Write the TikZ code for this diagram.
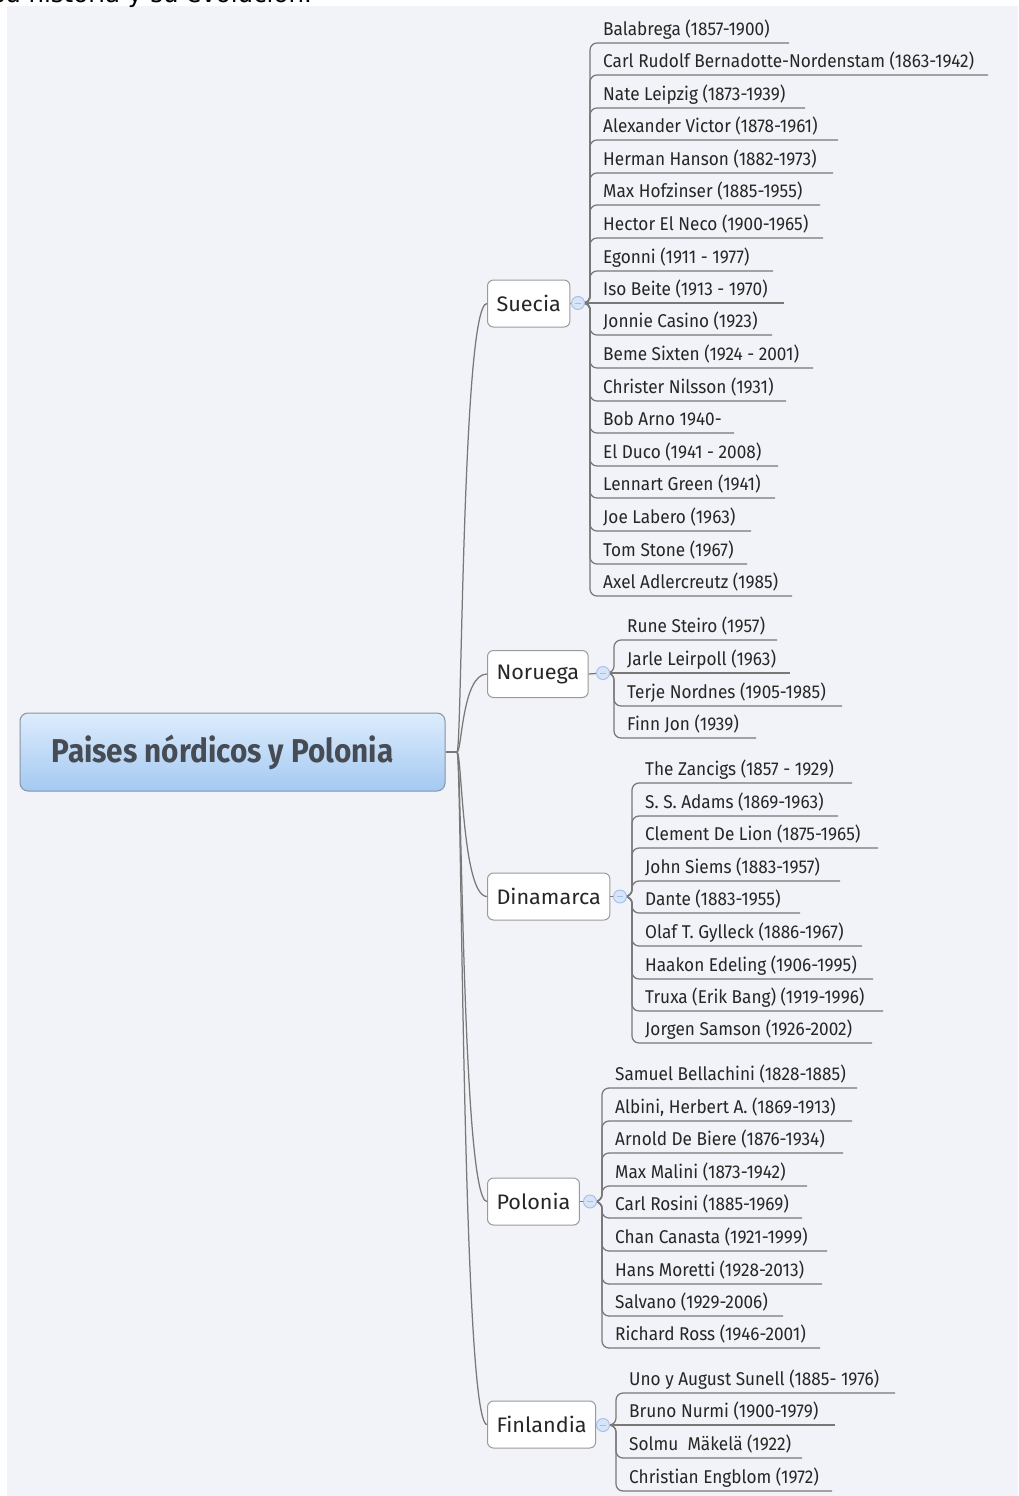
\documentclass[tikz,border=0pt]{standalone}
\usepackage{fontspec}
\setmainfont{Fira Sans}
\newfontfamily\leaffont[FakeStretch=0.93]{Fira Sans}
\newfontfamily\branchfont[FakeStretch=1.03]{Fira Sans}
\newfontfamily\rootfont[FakeStretch=0.9]{Fira Sans}
\newfontfamily\topfont{DejaVu Sans}
\definecolor{bgc}{HTML}{F2F3F8}
\definecolor{linec}{HTML}{787878}
\definecolor{txtc}{HTML}{262626}
\definecolor{boxc}{HTML}{9A9A9A}
\definecolor{hubc}{HTML}{A3BEE8}
\definecolor{hubfill}{HTML}{D8E4F7}
\definecolor{roottop}{HTML}{DDECFC}
\definecolor{rootbot}{HTML}{A4C9F2}
\definecolor{rootborder}{HTML}{8593A3}
\definecolor{roottxt}{HTML}{474C54}
\tikzset{
  conn/.style={draw=linec, line width=1.25pt},
  leafconn/.style={conn, rounded corners=7pt},
  leaftext/.style={anchor=base west, inner sep=0pt, text=txtc,
    font=\leaffont\fontsize{18.5}{20}\selectfont},
  branchbox/.style={draw=boxc, fill=white, rounded corners=6pt, line width=1pt,
    minimum height=47pt, inner xsep=9pt, anchor=west, text=txtc,
    font=\branchfont\fontsize{21}{24}\selectfont},
  hubdot/.style={circle, draw=hubc, fill=hubfill, line width=0.9pt,
    minimum size=13pt, inner sep=0pt},
  rootbox/.style={draw=rootborder, line width=1pt, rounded corners=8pt,
    top color=roottop, bottom color=rootbot, minimum width=425pt,
    minimum height=78pt, inner sep=0pt},
  rootlabel/.style={inner sep=0pt, text=roottxt,
    font=\rootfont\bfseries\fontsize{33}{36}\selectfont},
}
% #1 name, #2 hub coordinate, #3 trunk x, #4 underline y, #5 end x, #6 text
\newcommand{\leafitem}[6]{%
  \coordinate (#1-s) at (#3,#4);
  \coordinate (#1-e) at (#5,#4);
  \draw[leafconn] (#2) -| (#1-s) -- (#1-e);
  \node[leaftext] (#1) at (#3+13,#4-7.5) {#6};
}
\newcommand{\leafflat}[6]{%
  \coordinate (#1-e) at (#5,#4);
  \draw[conn] (#2) -- (#1-e);
  \node[leaftext] (#1) at (#3+13,#4-7.5) {#6};
}
\newcommand{\hubmark}[2]{%
  \node[hubdot] (#1) at (#2) {};
  \draw[hubc, line width=1pt] ([xshift=3.5pt]#1.west) -- ([xshift=-3.5pt]#1.east);
}
\begin{document}
\begin{tikzpicture}[x=1pt,y=-1pt]
\useasboundingbox (0,0) rectangle (1018,1496);
\clip (0,0) rectangle (1018,1496);
\fill[bgc] (7,6) rectangle (1018,1496);
\node[anchor=base east, inner sep=0pt, font=\topfont\fontsize{24.5}{26}\selectfont, text=black] (toptext) at (312,3) {su historia y su evolución.};

% root
\node[rootbox] (root) at (232.5,752) {};
\node[rootlabel] (rootlbl) at (222.5,752) {Paises nórdicos y Polonia};
\coordinate (split) at (457,752);
\draw[conn] (root.east) -- (split);

% branch boxes
\node[branchbox] (S) at (487,303.5) {Suecia};
\node[branchbox] (N) at (487,674) {Noruega};
\node[branchbox] (D) at (487,896.5) {Dinamarca};
\node[branchbox] (P) at (487,1201.5) {Polonia};
\node[branchbox] (F) at (487,1424.5) {Finlandia};

\foreach \b in {S,N,D,P,F}{
  \draw[conn] (split) .. controls (462,752) and (462,752 |- \b.west) .. (\b.west);
}

% hubs
\coordinate (hS) at (578,303);
\coordinate (hN) at (603,673);
\coordinate (hD) at (620,896.5);
\coordinate (hP) at (590,1201.5);
\coordinate (hF) at (603,1425);
\draw[conn] (S.east) -- (hS);
\draw[conn] (N.east) -- (hN);
\draw[conn] (D.east) -- (hD);
\draw[conn] (P.east) -- (hP);
\draw[conn] (F.east) -- (hF);

% Suecia
\leafitem{s1}{hS}{590}{43}{789}{Balabrega (1857-1900)}
\leafitem{s2}{hS}{590}{75}{988}{Carl Rudolf Bernadotte-Nordenstam (1863-1942)}
\leafitem{s3}{hS}{590}{108}{805}{Nate Leipzig (1873-1939)}
\leafitem{s4}{hS}{590}{140}{838}{Alexander Victor (1878-1961)}
\leafitem{s5}{hS}{590}{173}{833}{Herman Hanson (1882-1973)}
\leafitem{s6}{hS}{590}{205}{820}{Max Hofzinser (1885-1955)}
\leafitem{s7}{hS}{590}{238}{823}{Hector El Neco (1900-1965)}
\leafitem{s8}{hS}{590}{271}{773}{Egonni (1911 - 1977)}
\leafflat{s9}{hS}{590}{303}{784}{Iso Beite (1913 - 1970)}
\leafitem{s10}{hS}{590}{335}{772}{Jonnie Casino (1923)}
\leafitem{s11}{hS}{590}{368}{813}{Beme Sixten (1924 - 2001)}
\leafitem{s12}{hS}{590}{401}{786}{Christer Nilsson (1931)}
\leafitem{s13}{hS}{590}{433}{734}{Bob Arno 1940-}
\leafitem{s14}{hS}{590}{466}{778}{El Duco (1941 - 2008)}
\leafitem{s15}{hS}{590}{498}{775}{Lennart Green (1941)}
\leafitem{s16}{hS}{590}{531}{751}{Joe Labero (1963)}
\leafitem{s17}{hS}{590}{564}{747}{Tom Stone (1967)}
\leafitem{s18}{hS}{590}{596}{792}{Axel Adlercreutz (1985)}

% Noruega
\leafitem{n1}{hN}{614}{640}{777}{Rune Steiro (1957)}
\leafflat{n2}{hN}{614}{673}{790}{Jarle Leirpoll (1963)}
\leafitem{n3}{hN}{614}{706}{842}{Terje Nordnes (1905-1985)}
\leafitem{n4}{hN}{614}{738}{756}{Finn Jon (1939)}

% Dinamarca
\leafitem{d1}{hD}{632}{783}{852}{The Zancigs (1857 - 1929)}
\leafitem{d2}{hD}{632}{816}{838}{S. S. Adams (1869-1963)}
\leafitem{d3}{hD}{632}{848}{878}{Clement De Lion (1875-1965)}
\leafitem{d4}{hD}{632}{881}{840}{John Siems (1883-1957)}
\leafitem{d5}{hD}{632}{913}{800}{Dante (1883-1955)}
\leafitem{d6}{hD}{632}{946}{862}{Olaf T. Gylleck (1886-1967)}
\leafitem{d7}{hD}{632}{979}{873}{Haakon Edeling (1906-1995)}
\leafitem{d8}{hD}{632}{1011}{883}{Truxa (Erik Bang) (1919-1996)}
\leafitem{d9}{hD}{632}{1043}{872}{Jorgen Samson (1926-2002)}

% Polonia
\leafitem{p1}{hP}{602}{1088}{857}{Samuel Bellachini (1828-1885)}
\leafitem{p2}{hP}{602}{1121}{852}{Albini, Herbert A. (1869-1913)}
\leafitem{p3}{hP}{602}{1153}{843}{Arnold De Biere (1876-1934)}
\leafitem{p4}{hP}{602}{1186}{807}{Max Malini (1873-1942)}
\leafitem{p5}{hP}{602}{1218}{802}{Carl Rosini (1885-1969)}
\leafitem{p6}{hP}{602}{1251}{827}{Chan Canasta (1921-1999)}
\leafitem{p7}{hP}{602}{1284}{822}{Hans Moretti (1928-2013)}
\leafitem{p8}{hP}{602}{1316}{783}{Salvano (1929-2006)}
\leafitem{p9}{hP}{602}{1348}{820}{Richard Ross (1946-2001)}

% Finlandia
\leafitem{f1}{hF}{616}{1393}{895}{Uno y August Sunell (1885- 1976)}
\leafflat{f2}{hF}{616}{1425}{835}{Bruno Nurmi (1900-1979)}
\leafitem{f3}{hF}{616}{1458}{802}{Solmu\ \ Mäkelä (1922)}
\leafitem{f4}{hF}{616}{1491}{832}{Christian Engblom (1972)}

% hub markers on top
\hubmark{hubS}{hS}
\hubmark{hubN}{hN}
\hubmark{hubD}{hD}
\hubmark{hubP}{hP}
\hubmark{hubF}{hF}
\end{tikzpicture}
\end{document}
